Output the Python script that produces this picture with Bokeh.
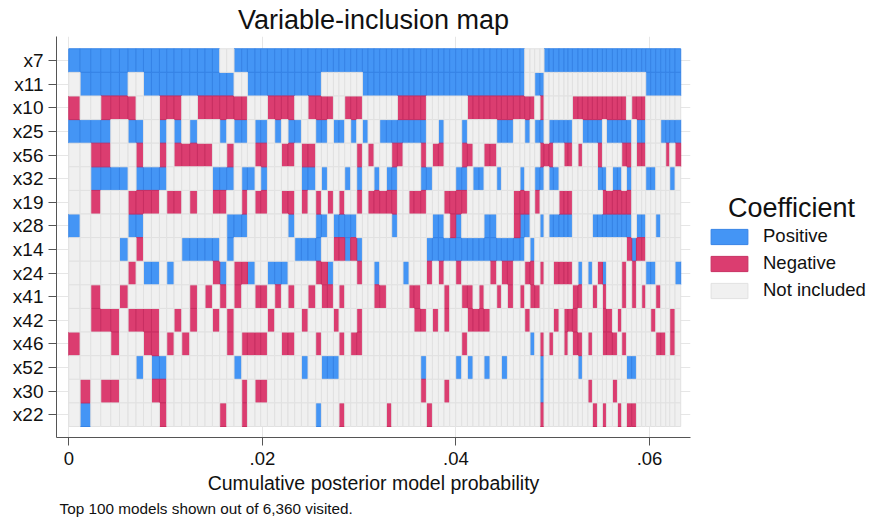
from bokeh.plotting import figure
from bokeh.layouts import row
from bokeh.models import (ColumnDataSource, Range1d, FixedTicker, Legend, LegendItem, Label, Title)
from bokeh.embed import file_html
from bokeh.resources import INLINE

# ---------------- data ----------------
variables = ["x7", "x11", "x10", "x25", "x56", "x32", "x19", "x28",
             "x14", "x24", "x41", "x42", "x46", "x52", "x30", "x22"]

# posterior probability of each of the top 100 models (units of 1e-4)
model_prob_e4 = [
    11.67, 11.05, 10.33, 10.33, 8.99, 8.88, 8.26, 7.64, 8.26, 8.26,
    7.54, 7.54, 7.95, 8.26, 7.95, 7.85, 7.64, 7.54, 7.23, 7.54,
    7.95, 5.89, 7.85, 5.89, 6.92, 7.54, 6.92, 6.82, 6.92, 6.92,
    6.82, 7.95, 5.89, 6.20, 6.20, 5.78, 5.89, 6.20, 6.20, 5.89,
    5.78, 6.20, 5.89, 6.92, 5.47, 5.89, 5.78, 6.20, 5.17, 6.92,
    5.89, 6.20, 6.20, 5.78, 5.89, 6.20, 6.20, 5.89, 5.78, 6.20,
    5.17, 6.20, 6.92, 4.86, 6.20, 6.20, 6.82, 4.86, 5.47, 4.86,
    5.47, 4.13, 5.17, 4.55, 5.78, 5.17, 4.13, 4.55, 5.78, 4.55,
    5.78, 4.55, 5.17, 5.17, 4.13, 6.20, 5.17, 4.44, 4.86, 5.47,
    4.86, 5.47, 4.13, 5.17, 5.17, 5.17, 5.17, 4.13, 5.47, 5.89,
]

# inclusion pattern per variable: '+' positive, '-' negative, '.' not included
inclusion = [
    "++++++++++" "++++++++.." "++++++++++" "++++++++++" "++++++++++" "++++++++++" "++++++++.." "..++++++++" "++++++++++" "++++++++++",  # x7
    ".+++++..++" "++++++++++" "..++++++++" "+++......." "++++++++++" "++++++++++" "++++++++.." "++........" ".........." "...+++++++",  # x11
    "-..----..." "---..-----" "--...----." ".----..---" "......----" "-.......--" "----------" ".-......--" "---------." "---.......",  # x10
    "++++..++.." "+.+.+...+." "++.++.+.++" "..++.++.+." "+..+++++++" "+..+...+.." "...+++..+." "++.+++++.." "++++.+++++" ".++...++++",  # x25
    "..--...-.." "-.-----..-" "...--..--." "--.......-" ".-...--..." "-.--...--." ".--......." ".---..--.-" "...-....--" ".--....-.-",  # x56
    "..++++.+++" "+......+++" ".++.+....." "++.+...+.+" "..+.++...." "++....++.+" "+..+...+.." "++.++....." "...++.++.+" "...++...+.",  # x32
    "..-...----" ".--.-..--." ".-.--..--." "-.-.-.-..-" ".-----..--" "-...----.." "......---." "-....---.." "....------" "..........",  # x19
    "+.....++.." ".........+" "++......+." "..++.++++." ".....+...." "..++.-+..." ".++...-++." ".+.+++++.." "..++++++++" ".++..+....",  # x28
    ".....+.-.." "...+++++.+" ".........+" "+++..--+-+" ".........." ".+++++++++" "++++++++.+" ".........." ".........-" "+--.......",  # x14
    "......-.++" ".+.....-+." "--+..+++.." "..--+....-" "..+....+.." ".-.-..-..." "..-.--..--" ".-..----.+" ".+.-+...-." "-..++....+",  # x24
    "..-..-...." "....-.-.-." "-..--.-.-." ".-.--.-..." "..--....--" "....-..--." "-..-.-.-.-" "-.......--" "..-.-...-." "-.-..-....",  # x41
    "..---.----" "..-.-..-.-" ".....-...." "-....-...-" ".........-" "-.-.-...--" "--......-." "....-.---." "....--.-.." "....-...-.",  # x42
    "-...-...--" ".-.-.....-" ".----..--." "..-...-.--" ".........." ".......-.." ".........+" ".-.-..-.--" ".-..---.-." ".....--.-.",  # x46
    ".......+.+" "+........." "+........." "+..+++...." ".........." "+.....+.+." ".+..+....." ".+.......+" ".........+" "+.........",  # x52
    ".-.--....-" "-........." ".-.--....." ".........." ".........." "-...-....." ".........." ".+........" ".-....-..." "..........",  # x30
    ".+........" "-.......-." ".-........" "..+...-..." "....-....." ".-........" ".........." ".-........" "..-.-..-.-" "-.........",  # x22
]

x_ticks = [0, 0.02, 0.04, 0.06]
x_tick_labels = ["0", ".02", ".04", ".06"]
status_names = ["Positive", "Negative", "Not included"]
status_codes = ["+", "-", "."]

# ---------------- build cells ----------------
edges = [0.0]
for pr in model_prob_e4:
    edges.append(edges[-1] + pr * 1e-4)

n_vars = len(variables)
cells = {c: dict(left=[], right=[], bottom=[], top=[]) for c in status_codes}
for i, (var, pattern) in enumerate(zip(variables, inclusion)):
    yc = n_vars - 1 - i
    for j, ch in enumerate(pattern):
        d = cells[ch]
        d["left"].append(edges[j])
        d["right"].append(edges[j + 1])
        d["bottom"].append(yc - 0.5)
        d["top"].append(yc + 0.5)

FONT = "Liberation Sans"
TXT = "#111111"
fills = {"+": ("#4495F5", "#3683E6"), "-": ("#DB3D70", "#C82F62"), ".": ("#F0F0F0", "#E1E1E1")}

# ---------------- main panel ----------------
p = figure(width=700, height=522, output_backend="svg", toolbar_location=None,
           x_range=Range1d(-0.00127, 0.06423), y_range=Range1d(-0.966, 16.02),
           min_border_left=56, min_border_right=10, min_border_top=36, min_border_bottom=85)
p.outline_line_color = None

for code in status_codes:
    fc, lc = fills[code]
    p.quad(left="left", right="right", bottom="bottom", top="top",
           source=ColumnDataSource(cells[code]),
           fill_color=fc, line_color=lc, line_width=1)

p.xaxis.ticker = FixedTicker(ticks=x_ticks, minor_ticks=[])
p.xaxis.major_label_overrides = {t: l for t, l in zip(x_ticks, x_tick_labels)}
p.xaxis.axis_label = "Cumulative posterior model probability"
p.yaxis.ticker = FixedTicker(ticks=list(range(n_vars)), minor_ticks=[])
p.yaxis.major_label_overrides = {n_vars - 1 - i: v for i, v in enumerate(variables)}

for ax in (p.xaxis, p.yaxis):
    ax.axis_line_color = "#555555"
    ax.major_tick_line_color = "#555555"
    ax.major_tick_out = 8
    ax.major_tick_in = 0
    ax.minor_tick_line_color = None
    ax.major_label_text_font = FONT
    ax.major_label_text_color = TXT
    ax.axis_label_text_font = FONT
    ax.axis_label_text_font_style = "normal"
    ax.axis_label_text_color = TXT
p.xaxis.major_label_text_font_size = "18.5px"
p.xaxis.major_label_standoff = 6
p.xaxis.axis_label_text_font_size = "19.5px"
p.xaxis.axis_label_standoff = 4
p.yaxis.major_label_text_font_size = "19px"
p.yaxis.major_label_standoff = 5

p.xgrid.ticker = FixedTicker(ticks=x_ticks)
p.ygrid.ticker = FixedTicker(ticks=list(range(n_vars)))
p.xgrid.grid_line_color = "#E6E6E6"
p.ygrid.grid_line_color = "#E6E6E6"

p.title = Title(text="Variable-inclusion map", align="center",
                text_font=FONT, text_font_size="27px", text_font_style="normal",
                text_color=TXT, standoff=3)
p.add_layout(Title(text="Top 100 models shown out of 6,360 visited.", align="left", offset=3,
                   vertical_align="top", text_font=FONT, text_font_size="15.3px",
                   text_font_style="normal", text_color=TXT, standoff=7), "below")

# ---------------- legend panel (frame top aligns with the main frame) ----------------
lg = figure(frame_width=172, frame_height=454, output_backend="svg", toolbar_location=None,
            x_range=Range1d(700, 872), y_range=Range1d(490, 36),
            x_axis_type=None, y_axis_type=None,
            min_border_left=0, min_border_right=0, min_border_top=36, min_border_bottom=0)
lg.outline_line_color = None
lg.xgrid.visible = False
lg.ygrid.visible = False

legend_items = []
for name, code in zip(status_names, status_codes):
    fc, lc = fills[code]
    # sample renderer outside the visible range: only used for the legend swatch
    r = lg.quad(left=[0], right=[1], bottom=[0], top=[1],
                fill_color=fc, line_color=lc, line_width=1)
    legend_items.append(LegendItem(label=name, renderers=[r]))

legend = Legend(items=legend_items, location="center_left", padding=0, margin=6, spacing=5,
                glyph_width=46, glyph_height=19, label_height=19, label_standoff=11,
                label_text_font=FONT, label_text_font_size="18.5px", label_text_color=TXT,
                border_line_alpha=0, background_fill_alpha=0)
lg.add_layout(legend)
lg.add_layout(Label(x=791, y=207, text="Coefficient",
                    text_align="center", text_baseline="alphabetic",
                    text_font=FONT, text_font_size="27px", text_color=TXT))

layout = row(p, lg, spacing=0)
open("out.html", "w").write(file_html(layout, INLINE))
